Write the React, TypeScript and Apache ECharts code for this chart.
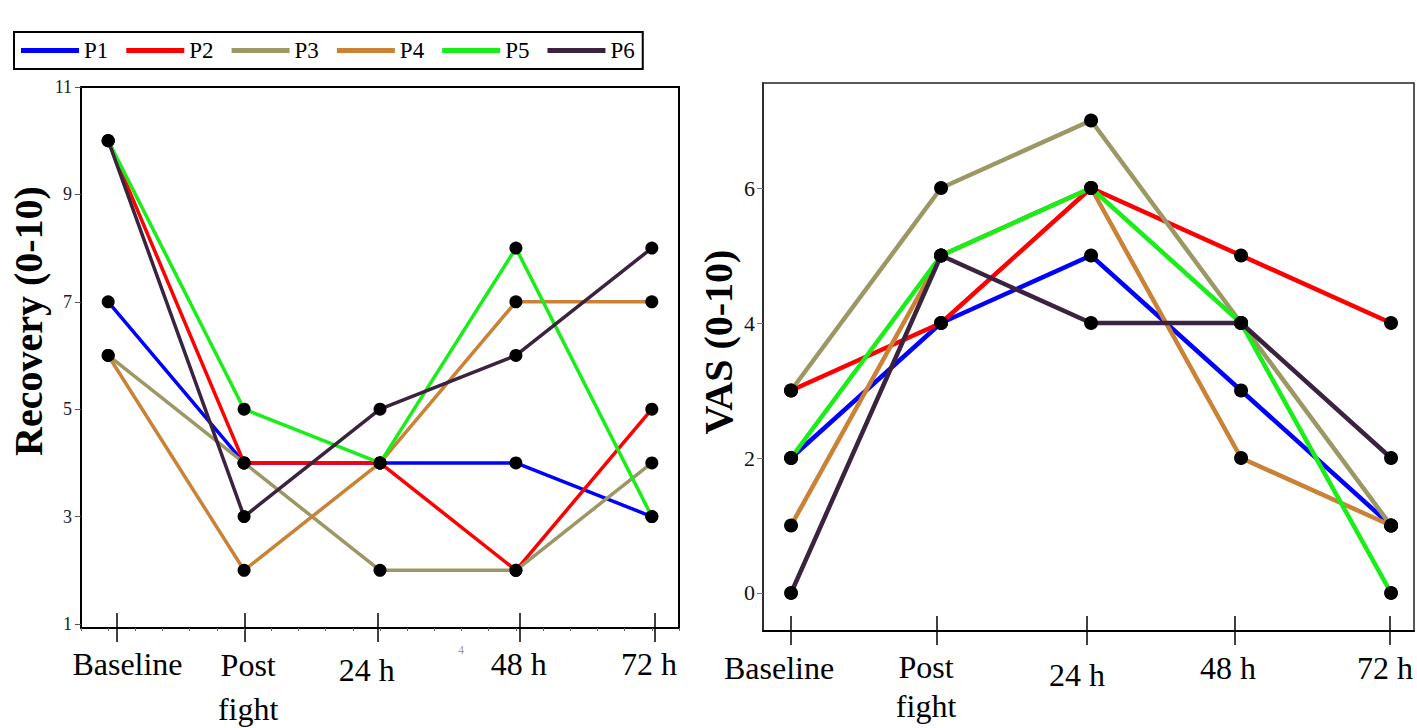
import React, { useEffect, useRef } from "react";
import * as echarts from "echarts";

const categories = ["Baseline", "Post fight", "24 h", "48 h", "72 h"];
const seriesNames = ["P1", "P2", "P3", "P4", "P5", "P6"];
const seriesColors = ["#0000ff", "#ff0000", "#9c9866", "#c98236", "#19ee19", "#3b2340"];

const recoveryP1 = [7, 4, 4, 4, 3];
const recoveryP2 = [10, 4, 4, 2, 5];
const recoveryP3 = [6, 4, 2, 2, 4];
const recoveryP4 = [6, 2, 4, 7, 7];
const recoveryP5 = [10, 5, 4, 8, 3];
const recoveryP6 = [10, 3, 5, 6, 8];

const vasP1 = [2, 4, 5, 3, 1];
const vasP2 = [3, 4, 6, 5, 4];
const vasP3 = [3, 6, 7, 4, 1];
const vasP4 = [1, 5, 6, 2, 1];
const vasP5 = [2, 5, 6, 4, 0];
const vasP6 = [0, 5, 4, 4, 2];

const recoveryTicks = [1, 3, 5, 7, 9, 11];
const vasTicks = [0, 2, 4, 6];

// the source figure's category ticks and labels sit slightly off the data points
const recoveryCatTicks = [0.065, 1.006, 1.984, 3.028, 4.02];
const recoveryCatLabels = [0.142, 1.03, 1.903, 3.02, 3.98];
const vasCatTicks = [0, 0.973, 1.973, 2.96, 3.993];
const vasCatLabels = [-0.08, 0.9, 1.907, 2.913, 3.96];

const recoveryData = [recoveryP1, recoveryP2, recoveryP3, recoveryP4, recoveryP5, recoveryP6];
const vasData = [vasP1, vasP2, vasP3, vasP4, vasP5, vasP6];

const SERIF = "'Liberation Serif', 'Times New Roman', serif";

function labelFormatter(v: number) {
  const i = Math.round(v);
  const name = categories[i];
  if (name === undefined) return "";
  if (name === "Post fight") return "{p|Post}\n{p|fight}";
  if (name === "24 h") return "{low|" + name + "}";
  return "{a|" + name + "}";
}

function makeXAxes(
  gridIndex: number,
  min: number,
  max: number,
  margin: number,
  lowPad: number,
  twoLineHeight: number,
  tickVals: number[],
  labelVals: number[],
  minor: boolean
) {
  const axes: any[] = [
    {
      type: "value",
      gridIndex,
      position: "bottom",
      min,
      max,
      splitLine: { show: false },
      axisLine: { show: true, onZero: false, lineStyle: { color: "#000", width: 2 } },
      axisTick: { show: true, inside: true, length: 15, customValues: tickVals, lineStyle: { color: "#000", width: 1.5 } },
      axisLabel: {
        show: true,
        customValues: labelVals,
        margin,
        formatter: labelFormatter,
        color: "#000",
        fontFamily: SERIF,
        fontSize: 32,
        rich: {
          a: { fontFamily: SERIF, fontSize: 32, lineHeight: 41, color: "#000" },
          p: { fontFamily: SERIF, fontSize: 32, lineHeight: twoLineHeight, color: "#000" },
          low: { fontFamily: SERIF, fontSize: 32, lineHeight: 41, color: "#000", padding: [lowPad, 0, 0, 0] },
        },
      },
    },
    {
      type: "value",
      gridIndex,
      position: "bottom",
      min,
      max,
      splitLine: { show: false },
      axisLine: { show: false, onZero: false },
      axisTick: { show: true, inside: false, length: 14, customValues: tickVals, lineStyle: { color: "#000", width: 1.5 } },
      axisLabel: { show: false },
    },
  ];
  if (minor) {
    axes.push({
      type: "value",
      gridIndex,
      position: "bottom",
      min,
      max,
      interval: 0.2,
      splitLine: { show: false },
      axisLine: { show: false, onZero: false },
      axisTick: { show: true, inside: false, length: 3, lineStyle: { color: "#666", width: 1 } },
      axisLabel: { show: false },
    });
  }
  return axes;
}

export default function App() {
  const ref = useRef<HTMLDivElement>(null);
  useEffect(() => {
    if (!ref.current) return;
    const chart = echarts.init(ref.current, null, { renderer: "svg" });

    const leftX = makeXAxes(0, -0.2, 4.2, 15, 12, 44, recoveryCatTicks, recoveryCatLabels, true);
    const rightX = makeXAxes(1, -0.187, 4.153, 16, 14, 39, vasCatTicks, vasCatLabels, false);
    const rightMainIndex = leftX.length;

    const series: any[] = [];
    seriesNames.forEach((name, k) => {
      series.push({
        name,
        type: "line",
        xAxisIndex: 0,
        yAxisIndex: 0,
        data: recoveryData[k].map((v, i) => [i, v]),
        symbol: "circle",
        symbolSize: 13,
        lineStyle: { color: seriesColors[k], width: 3.5 },
        itemStyle: { color: "#000" },
        z: 2 + k,
      });
    });
    seriesNames.forEach((name, k) => {
      series.push({
        name,
        type: "line",
        xAxisIndex: rightMainIndex,
        yAxisIndex: 1,
        data: vasData[k].map((v, i) => [i, v]),
        symbol: "circle",
        symbolSize: 14,
        lineStyle: { color: seriesColors[k], width: 4.5 },
        itemStyle: { color: "#000" },
        z: 2 + k,
      });
    });

    chart.setOption({
      animation: false,
      backgroundColor: "#fff",
      legend: {
        left: 14,
        top: 32,
        icon: "rect",
        itemWidth: 58,
        itemHeight: 5,
        itemGap: 18,
        padding: [7, 8, 7, 7],
        borderColor: "#000",
        borderWidth: 2,
        backgroundColor: "#fff",
        selectedMode: false,
        textStyle: { fontFamily: SERIF, fontSize: 23, color: "#000" },
        data: seriesNames.map((n, k) => ({ name: n, itemStyle: { color: seriesColors[k] } })),
      },
      grid: [
        { left: 81, top: 87, width: 598, height: 541, show: true, borderColor: "#000", borderWidth: 2, backgroundColor: "transparent" },
        { left: 763, top: 83, width: 651, height: 548, show: true, borderColor: "#222", borderWidth: 1.5, backgroundColor: "transparent" },
      ],
      xAxis: [...leftX, ...rightX],
      yAxis: [
        {
          type: "value",
          gridIndex: 0,
          min: 0.925,
          max: 11,
          splitLine: { show: false },
          axisLine: { show: true, onZero: false, lineStyle: { color: "#000", width: 2 } },
          axisTick: { show: true, length: 6, customValues: recoveryTicks, lineStyle: { color: "#555", width: 1 } },
          axisLabel: { customValues: recoveryTicks, margin: 9, color: "#1a1a2a", fontFamily: SERIF, fontSize: 18 },
        },
        {
          type: "value",
          gridIndex: 1,
          min: -0.563,
          max: 7.556,
          splitLine: { show: false },
          axisLine: { show: true, onZero: false, lineStyle: { color: "#222", width: 1.5 } },
          axisTick: { show: true, length: 6, customValues: vasTicks, lineStyle: { color: "#777", width: 1 } },
          axisLabel: { customValues: vasTicks, margin: 8, color: "#111", fontFamily: SERIF, fontSize: 22 },
        },
      ],
      graphic: [
        {
          type: "text",
          x: 28,
          y: 321,
          rotation: Math.PI / 2,
          style: {
            text: "Recovery (0-10)",
            fontFamily: SERIF,
            fontWeight: "bold",
            fontSize: 40,
            fill: "#000",
            textAlign: "center",
            textVerticalAlign: "middle",
          },
        },
        {
          type: "text",
          x: 718,
          y: 342,
          rotation: Math.PI / 2,
          style: {
            text: "VAS (0-10)",
            fontFamily: SERIF,
            fontWeight: "bold",
            fontSize: 40,
            fill: "#000",
            textAlign: "center",
            textVerticalAlign: "middle",
          },
        },
        {
          type: "text",
          x: 461,
          y: 650,
          style: { text: "4", fontFamily: SERIF, fontSize: 12, fill: "#999", textAlign: "center", textVerticalAlign: "middle" },
        },
      ],
      series,
    });

    return () => chart.dispose();
  }, []);

  return (
    <div
      ref={ref}
      style={{ position: "fixed", left: 0, top: 0, width: 1417, height: 728 }}
    />
  );
}
